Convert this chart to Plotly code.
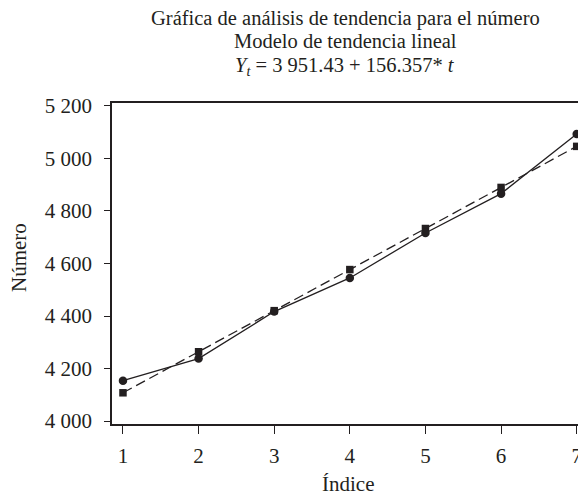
import plotly.graph_objects as go

t = [1, 2, 3, 4, 5, 6, 7]
actual = [4154, 4238, 4417, 4545, 4716, 4866, 5093]
fitted = [4107.8, 4264.1, 4420.5, 4576.9, 4733.2, 4889.6, 5045.9]
y_tickvals = [4000, 4200, 4400, 4600, 4800, 5000, 5200]
y_ticktext = ["4 000", "4 200", "4 400", "4 600", "4 800", "5 000", "5 200"]

FONT = "Liberation Serif, Times New Roman, serif"
INK = "#231f20"

# the page body has an 8px margin; work in page pixels and shift by OFF
OFF = 8
W, H = 586 - OFF, 497 - OFF
ML = 112 - OFF
MT = 103 - OFF
MB = H - (424 - OFF)
MR = 0

fig = go.Figure()
fig.add_trace(go.Scatter(x=t, y=fitted, mode="lines+markers",
                         line=dict(color=INK, width=1.3, dash="10px,5px"),
                         marker=dict(symbol="square", size=7.5, color=INK),
                         showlegend=False, cliponaxis=False))
fig.add_trace(go.Scatter(x=t, y=actual, mode="lines+markers",
                         line=dict(color=INK, width=1.3),
                         marker=dict(symbol="circle", size=8.5, color=INK),
                         showlegend=False, cliponaxis=False))

fig.update_layout(
    width=W, height=H,
    margin=dict(l=ML, r=MR, t=MT, b=MB, autoexpand=False),
    paper_bgcolor="white", plot_bgcolor="white",
    font=dict(family=FONT, size=20, color=INK),
    xaxis=dict(range=[0.855, 7.123], tickvals=t, ticks="outside", ticklen=8,
               tickwidth=1.3, tickcolor=INK, showline=True, linecolor=INK,
               linewidth=1.5, mirror=True, showgrid=False, zeroline=False,
               automargin=False, ticklabelstandoff=4, ticklabeloverflow="allow",
               tickfont=dict(family=FONT, size=21, color=INK)),
    yaxis=dict(range=[3989, 5211], tickvals=y_tickvals, ticktext=y_ticktext,
               ticks="outside", ticklen=6, tickwidth=1.3, tickcolor=INK,
               showline=True, linecolor=INK, linewidth=1.5, mirror=False,
               showgrid=False, zeroline=False, automargin=False,
               ticklabelstandoff=8, ticklabeloverflow="allow",
               tickfont=dict(family=FONT, size=21, color=INK)),
    annotations=[
        dict(text="Gráfica de análisis de tendencia para el número", x=345, y=18,
             showarrow=False, font=dict(size=20.5)),
        dict(text="Modelo de tendencia lineal", x=345, y=41,
             showarrow=False, font=dict(size=20.5)),
        dict(text="<i>Y</i><sub><i>t</i></sub> = 3 951.43 + 156.357* <i>t</i>", x=345, y=66,
             showarrow=False, font=dict(size=20.5)),
        dict(text="Índice", x=348, y=484, showarrow=False, font=dict(size=21)),
        dict(text="Número", x=19, y=258, showarrow=False, textangle=-90,
             font=dict(size=21)),
    ],
)

# convert page-pixel annotation positions to paper coordinates
pw = W - ML - MR
ph = H - MT - MB
for a in fig.layout.annotations:
    px, py = a.x - OFF, a.y - OFF
    a.xref = "paper"
    a.yref = "paper"
    a.x = (px - ML) / pw
    a.y = 1 - (py - MT) / ph
    a.xanchor = "center"
    a.yanchor = "middle"

fig.write_html("out.html")
